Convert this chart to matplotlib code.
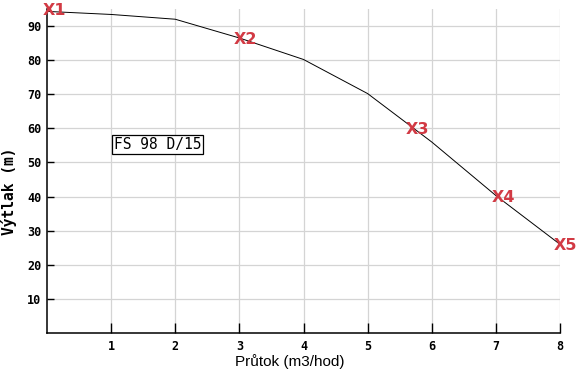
import numpy as np
import matplotlib
matplotlib.use("Agg")
import matplotlib.pyplot as plt

# pump curve FS 98 D/15
flow = [0, 1, 2, 3, 4, 5, 6, 7, 8]
head = [94.3, 93.4, 92.0, 86.5, 80.2, 70.2, 56.0, 40.3, 26.0]

point_names = ["X1", "X2", "X3", "X4", "X5"]
point_x = [0.11, 3.09, 5.78, 7.12, 8.09]
point_y = [94.5, 86.0, 59.6, 39.8, 25.8]

xticks = [1, 2, 3, 4, 5, 6, 7, 8]
yticks = [10, 20, 30, 40, 50, 60, 70, 80, 90]

fig = plt.figure(figsize=(5.8, 3.76), dpi=100)
ax = fig.add_axes([47/580, 43/376, 513/580, 324/376])

ax.plot(flow, head, color="black", lw=0.7, zorder=3)

for name, px, py in zip(point_names, point_x, point_y):
    ax.text(px, py, name, color="#d23a44", fontsize=11.5, fontweight="bold",
            ha="center", va="center", zorder=4, clip_on=False)

ax.text(1.72, 55.2, "FS 98 D/15", family="DejaVu Sans Mono", fontsize=10.5,
        ha="center", va="center", zorder=4,
        bbox=dict(boxstyle="square,pad=0.12", fc="white", ec="black", lw=0.9))

ax.set_xlim(0, 8)
ax.set_ylim(0, 95)
ax.set_xticks(xticks)
ax.set_yticks(yticks)
ax.grid(True, color="#d4d4d4", lw=0.9)
ax.set_axisbelow(True)
for s in ["top", "right"]:
    ax.spines[s].set_visible(False)
for s in ["left", "bottom"]:
    ax.spines[s].set_linewidth(1.1)
ax.tick_params(axis="x", direction="in", length=7, width=1, pad=5)
ax.tick_params(axis="y", direction="in", length=5, width=1, pad=4)
for lbl in ax.get_xticklabels() + ax.get_yticklabels():
    lbl.set_family("DejaVu Sans Mono")
    lbl.set_fontweight("bold")
    lbl.set_fontsize(8.5)

fig.text(290/580, 1 - 362/376, "Průtok (m3/hod)", family="Liberation Sans",
         fontsize=11, ha="center", va="center")
fig.text(9/580, 1 - 191/376, "Výtlak (m)", family="DejaVu Sans Mono",
         fontweight="bold", fontsize=10.5, rotation=90, ha="center", va="center")

fig.savefig("out.png", dpi=100)
